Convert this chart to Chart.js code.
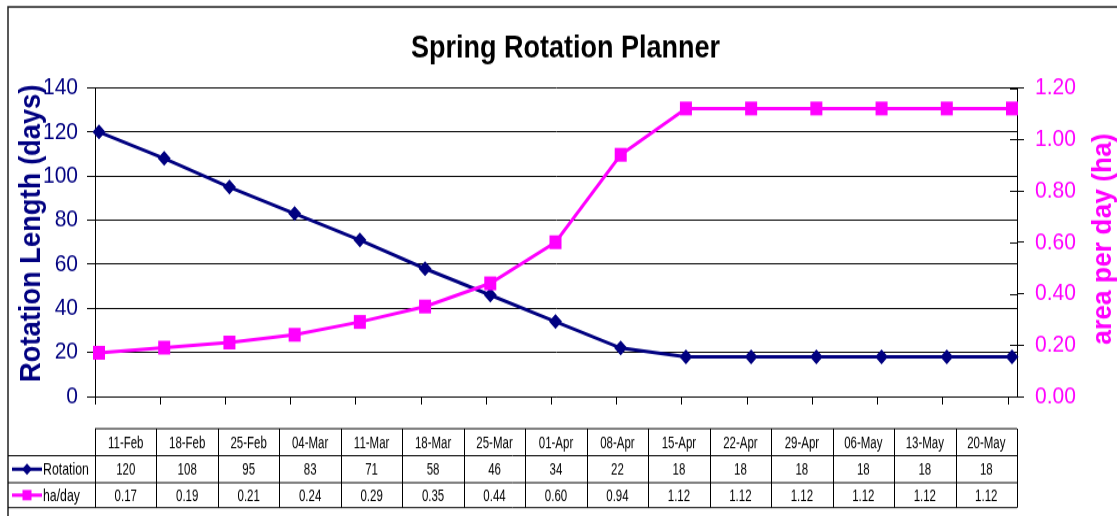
<!DOCTYPE html>
<html>
<head>
<meta charset="utf-8">
<script src="https://cdn.jsdelivr.net/npm/chart.js@4.4.1/dist/chart.umd.min.js"></script>
<style>
  html, body { margin: 0; padding: 0; background: #fff; width: 1117px; height: 516px; overflow: hidden; }
  /* the source picture is stretched vertically: draw 449px tall, show 516px tall */
  #c { display: block; width: 1117px; height: 516px; }
</style>
</head>
<body>
<canvas id="c" width="1117" height="449" style="width:1117px;height:516px"></canvas>
<script>
const categories = ['11-Feb', '18-Feb', '25-Feb', '04-Mar', '11-Mar', '18-Mar', '25-Mar', '01-Apr',
                    '08-Apr', '15-Apr', '22-Apr', '29-Apr', '06-May', '13-May', '20-May'];
const rotationDays = [120, 108, 95, 83, 71, 58, 46, 34, 22, 18, 18, 18, 18, 18, 18];
const haPerDay = [0.17, 0.19, 0.21, 0.24, 0.29, 0.35, 0.44, 0.60, 0.94, 1.12, 1.12, 1.12, 1.12, 1.12, 1.12];
const seriesNames = ['Rotation', 'ha/day'];
const leftRange = [0, 140, 20];
const rightRange = [0, 1.2, 0.2];
const chartTitle = 'Spring Rotation Planner';
const leftTitle = 'Rotation Length (days)';
const rightTitle = 'area per day (ha)';

const NAVY = '#000080', PINK = '#FF00FF';
const SANS = '"Liberation Sans", Arial, sans-serif';
const NARROW_X = 0.82;   // squeeze to look like Arial Narrow

// plot area in canvas px (before the vertical stretch)
const AREA = { left: 95, right: 1017, top: 76.5, bottom: 345 };
const firstX = 99, lastX = 1012;
const unit = (lastX - firstX) / (categories.length - 1);
const xMin = -(firstX - AREA.left) / unit;
const xMax = categories.length - 1 + (AREA.right - lastX) / unit;

const TABLE_ROWS = [373, 396.5, 420, 441.7];

function diamond(ctx, x, y, r) {
  ctx.beginPath();
  ctx.moveTo(x, y - r); ctx.lineTo(x + r, y); ctx.lineTo(x, y + r); ctx.lineTo(x - r, y);
  ctx.closePath(); ctx.fill();
}

// text squeezed along its own direction, optionally rotated
function narrowText(ctx, txt, x, y, rot) {
  ctx.save();
  ctx.translate(x, y);
  if (rot) ctx.rotate(rot);
  ctx.scale(NARROW_X, 1);
  ctx.fillText(txt, 0, 0);
  ctx.restore();
}

const extras = {
  id: 'extras',
  afterDraw(chart) {
    const ctx = chart.ctx, a = chart.chartArea, y1 = chart.scales.y1;
    ctx.save();

    // outer frame (left + top)
    ctx.strokeStyle = '#222'; ctx.lineWidth = 1.5;
    ctx.beginPath(); ctx.moveTo(8, 449); ctx.lineTo(8, 6); ctx.lineTo(1117, 6); ctx.stroke();

    // chart title
    ctx.fillStyle = '#000';
    ctx.font = `bold 27px ${SANS}`;
    ctx.textAlign = 'center'; ctx.textBaseline = 'alphabetic';
    ctx.fillText(chartTitle, 565.5, 50);

    // axis titles, both reading bottom to top
    ctx.fillStyle = NAVY; ctx.font = `bold 29px ${SANS}`;
    narrowText(ctx, leftTitle, 40, 203, -Math.PI / 2);
    ctx.fillStyle = PINK; ctx.font = `bold 28px ${SANS}`;
    narrowText(ctx, rightTitle, 1111, 208, -Math.PI / 2);

    // right axis ticks cross the axis
    ctx.strokeStyle = '#000'; ctx.lineWidth = 1;
    y1.ticks.forEach(t => {
      const y = Math.round(y1.getPixelForValue(t.value)) + 0.5;
      ctx.beginPath(); ctx.moveTo(a.right - 7, y); ctx.lineTo(a.right, y); ctx.stroke();
    });

    // data table
    const colW = (a.right - a.left) / categories.length;
    const R = TABLE_ROWS;
    ctx.beginPath();
    ctx.moveTo(a.left, R[0]); ctx.lineTo(a.right, R[0]);
    for (let r = 1; r < R.length; r++) { ctx.moveTo(8, R[r]); ctx.lineTo(a.right, R[r]); }
    for (let i = 0; i <= categories.length; i++) {
      const x = Math.round(a.left + i * colW) + 0.5;
      ctx.moveTo(x, R[0]); ctx.lineTo(x, R[3]);
    }
    ctx.stroke();

    ctx.fillStyle = '#000';
    ctx.font = `14px ${SANS}`;
    ctx.textAlign = 'center'; ctx.textBaseline = 'middle';
    const rowMid = r => (R[r] + R[r + 1]) / 2 + 1;
    categories.forEach((c, i) => {
      const cx = a.left + (i + 0.5) * colW;
      narrowText(ctx, c, cx, rowMid(0));
      narrowText(ctx, String(rotationDays[i]), cx, rowMid(1));
      narrowText(ctx, haPerDay[i].toFixed(2), cx, rowMid(2));
    });

    // legend keys in the row headers
    [[NAVY, 'd'], [PINK, 's']].forEach(([col, mk], k) => {
      const y = (R[k + 1] + R[k + 2]) / 2;
      ctx.strokeStyle = col; ctx.lineWidth = 3;
      ctx.beginPath(); ctx.moveTo(12, y); ctx.lineTo(42, y); ctx.stroke();
      ctx.fillStyle = col;
      if (mk === 'd') diamond(ctx, 27, y, 5);
      else ctx.fillRect(22.5, y - 4.5, 9, 9);
      ctx.fillStyle = '#000'; ctx.textAlign = 'left';
      ctx.font = `15px ${SANS}`;
      narrowText(ctx, seriesNames[k], 43, y + 1);
    });

    ctx.restore();
  }
};

new Chart(document.getElementById('c'), {
  type: 'line',
  data: {
    datasets: [
      {
        label: seriesNames[1], yAxisID: 'y1', order: 0,
        data: haPerDay.map((v, i) => ({ x: i, y: v })),
        borderColor: PINK, backgroundColor: PINK, borderWidth: 3,
        pointStyle: 'rect', pointRadius: 8.5, pointBorderWidth: 0,
        clip: false
      },
      {
        label: seriesNames[0], yAxisID: 'y', order: 1,
        data: rotationDays.map((v, i) => ({ x: i, y: v })),
        borderColor: NAVY, backgroundColor: NAVY, borderWidth: 3,
        pointStyle: 'rectRot', pointRadius: 6.5, pointBorderWidth: 0,
        clip: false
      }
    ]
  },
  options: {
    responsive: false,
    animation: false,
    layout: { padding: { top: AREA.top, bottom: 449 - AREA.bottom - 10, left: 0, right: 0 } },
    plugins: { legend: { display: false }, tooltip: { enabled: false }, title: { display: false } },
    scales: {
      x: {
        type: 'linear', min: xMin, max: xMax,
        afterBuildTicks: s => { s.ticks = categories.map((c, i) => ({ value: i + xMin })); },
        afterFit: s => { s.height = 10; },
        ticks: { display: false },
        grid: { display: true, drawOnChartArea: false, drawTicks: true, tickLength: 7, color: '#000' },
        border: { display: true, color: '#000', width: 1 }
      },
      y: {
        position: 'left', min: leftRange[0], max: leftRange[1],
        afterFit: s => { s.width = AREA.left; },
        ticks: { stepSize: leftRange[2], color: NAVY, padding: 9, font: { family: SANS, size: 21 } },
        grid: { color: '#000', lineWidth: 1, drawTicks: true, tickLength: 8, tickColor: '#000' },
        border: { display: true, color: '#000', width: 1 }
      },
      y1: {
        position: 'right', min: rightRange[0], max: rightRange[1],
        afterFit: s => { s.width = 1117 - AREA.right; },
        ticks: { stepSize: rightRange[2], color: PINK, padding: 11, font: { family: SANS, size: 21 },
                 callback: v => v.toFixed(2) },
        grid: { drawOnChartArea: false, drawTicks: true, tickLength: 7, tickColor: '#000' },
        border: { display: true, color: '#000', width: 1 }
      }
    }
  },
  plugins: [extras]
});
</script>
</body>
</html>
